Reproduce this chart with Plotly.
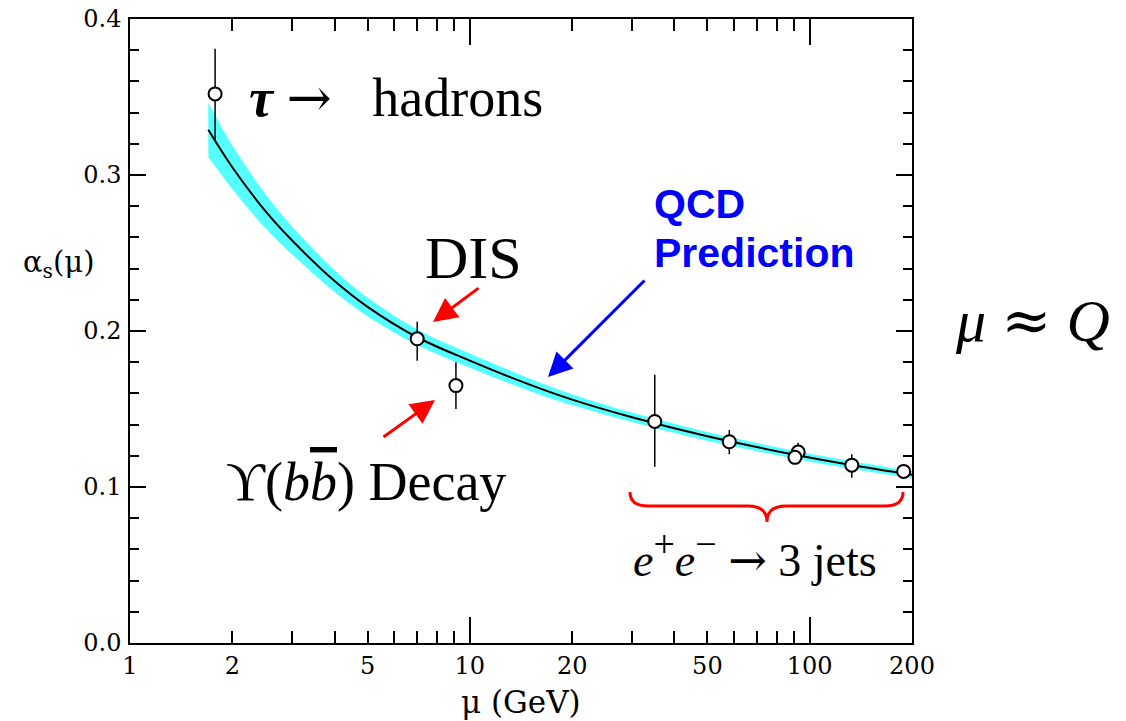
import plotly.graph_objects as go
import math

# ---------------- data ----------------
# QCD prediction curve
mu_curve = [1.7, 2, 2.5, 3, 4, 5, 7, 10, 15, 20, 30, 50, 91.2, 130, 200]
alpha_curve = [0.329, 0.305, 0.277, 0.258, 0.232, 0.2155, 0.196, 0.181,
               0.1656, 0.156, 0.1447, 0.1325, 0.1205, 0.1144, 0.1078]
band_halfwidth = [0.0175, 0.014, 0.011, 0.009, 0.007, 0.006, 0.005, 0.0045,
                  0.004, 0.0035, 0.003, 0.0028, 0.0025, 0.0024, 0.0023]

# measurements
mu_data = [1.78, 7.0, 9.1, 35, 58, 92.5, 90.5, 133, 189]
alpha_data = [0.352, 0.195, 0.165, 0.142, 0.129, 0.1224, 0.119, 0.114, 0.110]
err_plus = [0.029, 0.011, 0.015, 0.030, 0.0075, 0.006, 0.004, 0.007, 0.003]
err_minus = [0.030, 0.014, 0.015, 0.029, 0.008, 0.004, 0.004, 0.008, 0.003]

x_tickvals = [1, 2, 5, 10, 20, 50, 100, 200]
x_ticktext = ["1", "2", "5", "10", "20", "50", "100", "200"]
x_minor = [3, 4, 6, 7, 8, 9, 30, 40, 60, 70, 80, 90]
x_long = [10, 100]
y_tickvals = [0.0, 0.1, 0.2, 0.3, 0.4]
y_ticktext = ["0.0", "0.1", "0.2", "0.3", "0.4"]

# ---------------- layout geometry ----------------
W, H = 1126, 721
L, R, T, B = 130, 912, 19, 643


def px(xp):
    return (xp - L) / (R - L)


def py(yp):
    return (B - yp) / (B - T)


band_lo = [a - h for a, h in zip(alpha_curve, band_halfwidth)]
band_hi = [a + h for a, h in zip(alpha_curve, band_halfwidth)]

CYAN = "#55FFFF"
fig = go.Figure()
fig.add_trace(go.Scatter(x=mu_curve, y=band_lo, mode="lines",
                         line=dict(width=0, color=CYAN, shape="spline"),
                         showlegend=False, hoverinfo="skip"))
fig.add_trace(go.Scatter(x=mu_curve, y=band_hi, mode="lines", fill="tonexty",
                         fillcolor=CYAN,
                         line=dict(width=0, color=CYAN, shape="spline"),
                         showlegend=False, hoverinfo="skip"))
fig.add_trace(go.Scatter(x=mu_curve, y=alpha_curve, mode="lines",
                         line=dict(width=2, color="black", shape="spline"),
                         showlegend=False))
fig.add_trace(go.Scatter(
    x=mu_data, y=alpha_data, mode="markers",
    marker=dict(symbol="circle", size=13, color="white",
                line=dict(color="black", width=2)),
    error_y=dict(type="data", array=err_plus, arrayminus=err_minus,
                 color="black", thickness=1.5, width=0),
    showlegend=False))
fig.add_trace(go.Scatter(x=[], y=[], xaxis="x2", showlegend=False))

tickfont = dict(family="DejaVu Serif", size=24, color="black")
fig.update_layout(
    width=W, height=H,
    margin=dict(l=L, r=W - R, t=T, b=H - B, pad=0, autoexpand=False),
    paper_bgcolor="white", plot_bgcolor="white",
    xaxis=dict(type="log", range=[0, math.log10(200)], automargin=False,
               tickmode="array", tickvals=x_tickvals, ticktext=x_ticktext,
               ticks="inside", ticklen=12, tickwidth=1.5, tickcolor="black",
               showline=True, linecolor="black", linewidth=1.5,
               mirror="ticks", showgrid=False, zeroline=False,
               tickfont=tickfont, ticklabelstandoff=0,
               minor=dict(tickmode="array", tickvals=x_minor, ticks="inside",
                          ticklen=12, tickwidth=1.5, tickcolor="black",
                          showgrid=False)),
    xaxis2=dict(type="log", range=[0, math.log10(200)], overlaying="x",
                automargin=False,
                side="bottom", tickmode="array", tickvals=x_long,
                ticks="inside", ticklen=26, tickwidth=1.5, tickcolor="black",
                showticklabels=False, showline=False, mirror="ticks",
                showgrid=False, zeroline=False),
    yaxis=dict(range=[0, 0.4], tickmode="array", tickvals=y_tickvals,
               ticktext=y_ticktext, automargin=False,
               ticks="inside", ticklen=16, tickwidth=1.5, tickcolor="black",
               showline=True, linecolor="black", linewidth=1.5,
               mirror="ticks", showgrid=False, zeroline=False,
               tickfont=tickfont, ticklabelstandoff=2,
               minor=dict(dtick=0.02, ticks="inside", ticklen=9,
                          tickwidth=1.5, tickcolor="black", showgrid=False)),
)

serif = "Liberation Serif"
ann = []


def text(xp, yp, s, size, family=serif, color="black", xanchor="center"):
    ann.append(dict(x=px(xp), y=py(yp), xref="paper", yref="paper",
                    text=s, showarrow=False, xanchor=xanchor, yanchor="middle",
                    font=dict(family=family, size=size, color=color)))


def arrow(hx, hy, tx, ty, color):
    ann.append(dict(x=px(hx), y=py(hy), xref="paper", yref="paper",
                    ax=tx - hx, ay=ty - hy, text="", showarrow=True,
                    arrowhead=2, arrowsize=1.6, arrowwidth=3,
                    arrowcolor=color, standoff=0, startstandoff=0))


ARW = "<span style=\"font-family:DejaVu Serif\">→</span>"

# axis titles
text(521, 702, "μ (GeV)", 31, family="DejaVu Serif")
text(59, 264, "α<sub>s</sub>(μ)", 29, family="DejaVu Serif")

# labels
text(247, 97, "<b><i>τ</i></b> " + ARW + "   hadrons", 54, xanchor="left")
text(473, 258, "DIS", 60)
text(366, 482, "ϒ(<i>b</i><i><span style='text-decoration:overline'>b</span></i>) Decay",
     54)
text(755, 555, "<i>e</i><sup><span style=\"font-size:38px\">+</span></sup>"
     "<i>e</i><sup><span style=\"font-size:38px\">−</span></sup> " + ARW + " 3 jets", 46)
text(652, 204, "<b>QCD</b>", 41, family="Liberation Sans", color="#0000FF",
     xanchor="left")
text(652, 253, "<b>Prediction</b>", 41, family="Liberation Sans",
     color="#0000FF", xanchor="left")
text(1032, 320, "<i>μ</i> <span style=\"font-family:DejaVu Serif\">≈</span> <i>Q</i>", 60)

# arrows
arrow(433, 322, 480, 287, "#FF0000")
arrow(435, 400, 382, 438, "#FF0000")
arrow(548, 377, 646, 279, "#0000FF")

fig.update_layout(annotations=ann)

# red curly brace (paper coordinates)
pts = [(630, 492), (630, 506), (648, 506), (748, 506), (767, 506), (767, 522),
       (767, 506), (786, 506), (885, 506), (903, 506), (903, 492)]
P = [(px(a), py(b)) for a, b in pts]
path = (f"M {P[0][0]},{P[0][1]} Q {P[1][0]},{P[1][1]} {P[2][0]},{P[2][1]} "
        f"L {P[3][0]},{P[3][1]} Q {P[4][0]},{P[4][1]} {P[5][0]},{P[5][1]} "
        f"Q {P[6][0]},{P[6][1]} {P[7][0]},{P[7][1]} "
        f"L {P[8][0]},{P[8][1]} Q {P[9][0]},{P[9][1]} {P[10][0]},{P[10][1]}")
fig.add_shape(type="path", path=path, xref="paper", yref="paper",
              line=dict(color="#FF0000", width=3))

fig.write_html("out.html", config={"displayModeBar": False},
               post_script="document.body.style.margin='0';")
